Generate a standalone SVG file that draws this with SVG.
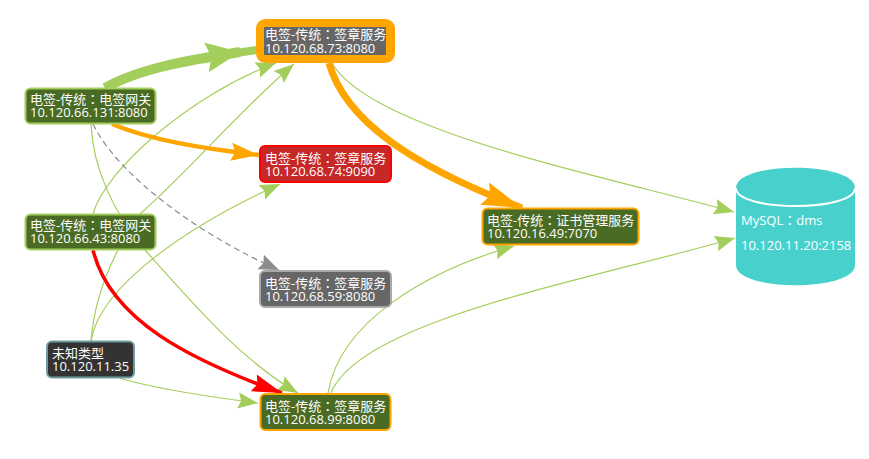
<svg xmlns="http://www.w3.org/2000/svg" width="869" height="459" viewBox="0 0 869 459">
<style>
text{font-family:"Open Sans","Noto Sans CJK TC","Noto Sans",sans-serif;font-size:13px;fill:#fff}
.e{fill:none}
.g{stroke:#a4ce5c;stroke-width:1.2}
.o{stroke:#ffa500}
</style>
<defs>
<marker id="ag" markerUnits="userSpaceOnUse" markerWidth="24" markerHeight="18" refX="20" refY="8" orient="auto" viewBox="0 0 24 16"><path d="M0 0L20 8L0 16L3 8Z" fill="#a4ce5c"/></marker>
<marker id="agb" markerUnits="userSpaceOnUse" markerWidth="40" markerHeight="32" refX="34" refY="15" orient="auto" viewBox="0 0 40 30"><path d="M0 0L34 15L0 30L5 15Z" fill="#a4ce5c"/></marker>
<marker id="ao" markerUnits="userSpaceOnUse" markerWidth="32" markerHeight="20" refX="28" refY="9" orient="auto" viewBox="0 0 32 18"><path d="M0 0L28 9L0 18L4 9Z" fill="#ffa500"/></marker>
<marker id="aob" markerUnits="userSpaceOnUse" markerWidth="44" markerHeight="26" refX="40" refY="12" orient="auto" viewBox="0 0 44 24"><path d="M0 0L40 12L0 24L6 12Z" fill="#ffa500"/></marker>
<marker id="ar" markerUnits="userSpaceOnUse" markerWidth="34" markerHeight="20" refX="30" refY="9" orient="auto" viewBox="0 0 34 18"><path d="M0 0L30 9L0 18L4 9Z" fill="#f00"/></marker>
<marker id="ay" markerUnits="userSpaceOnUse" markerWidth="24" markerHeight="18" refX="20" refY="8" orient="auto" viewBox="0 0 24 16"><path d="M0 0L20 8L0 16L3 8Z" fill="#8c8c8c"/></marker>
</defs>
<g id="connectors">
<path class="e g" d="M91 124C93 170 115 215 145 250C190 300 240 360 298 393" marker-end="url(#ag)"/>
<path class="e g" d="M93 214C105 170 190 95 276 63" marker-end="url(#ag)"/>
<path class="e g" d="M118 250C100 285 93 315 91 341"/>
<path class="e g" d="M118 250C125 235 132 223 140 214C190 170 240 110 294 64" marker-end="url(#ag)"/>
<path class="e g" d="M91 341C100 285 190 225 280 184" marker-end="url(#ag)"/>
<path class="e g" d="M119 378C160 390 210 397 258 403" marker-end="url(#ag)"/>
<path class="e g" d="M328 393C340 320 430 270 514 246" marker-end="url(#ag)"/>
<path class="e g" d="M331 393C360 320 590 280 735 238" marker-end="url(#ag)"/>
<path class="e g" d="M332 63C370 130 600 175 734 212" marker-end="url(#ag)"/>
<path class="e" stroke="#a4ce5c" stroke-width="10" d="M105 88C140 68 190 60 240 52" marker-end="url(#agb)"/>
<path class="e" stroke="#a4ce5c" stroke-width="8" d="M236 53L257 50"/>
<path class="e o" stroke-width="4.500" d="M112 124C150 140 200 148 259 155" marker-end="url(#ao)"/>
<path class="e o" stroke-width="7" d="M329 63C345 120 410 165 522 208" marker-end="url(#aob)"/>
<path class="e" stroke="#f00" stroke-width="3.500" d="M93 250C110 320 190 360 282 393" marker-end="url(#ar)"/>
<path class="e" stroke="#8c8c8c" stroke-width="1.200" stroke-dasharray="6 4" d="M93 124C120 180 210 240 279 270" marker-end="url(#ay)"/>
</g>
<g id="n-gw131"><rect x="25.500" y="88.500" width="130" height="35" rx="5" fill="#4a6b24" stroke="#a4ce5c" stroke-width="2"/><text><tspan x="30" y="104">电签-传统：电签网关</tspan><tspan x="30" y="117">10.120.66.131:8080</tspan></text></g>
<g id="n-gw43"><rect x="25.500" y="214.500" width="130" height="35" rx="5" fill="#4a6b24" stroke="#a4ce5c" stroke-width="2"/><text><tspan x="30" y="230">电签-传统：电签网关</tspan><tspan x="30" y="243">10.120.66.43:8080</tspan></text></g>
<g id="n-unknown"><rect x="47" y="341.500" width="87" height="36" rx="5" fill="#333" stroke="#6f9aa0" stroke-width="2"/><text><tspan x="52" y="358">未知类型</tspan><tspan x="52" y="371">10.120.11.35</tspan></text></g>
<g id="n-sign73"><rect x="258.500" y="21.500" width="134" height="39" rx="7" fill="#ffa500" stroke="#ffa500" stroke-width="5"/><rect x="264" y="27" width="122" height="28" fill="#666"/><text><tspan x="265" y="39">电签-传统：签章服务</tspan><tspan x="265" y="53">10.120.68.73:8080</tspan></text></g>
<g id="n-sign74"><rect x="260" y="146" width="131" height="36" rx="5" fill="#c62828" stroke="#f00" stroke-width="2"/><text><tspan x="265" y="163">电签-传统：签章服务</tspan><tspan x="265" y="176">10.120.68.74:9090</tspan></text></g>
<g id="n-sign59"><rect x="260" y="271" width="131" height="36" rx="5" fill="#666" stroke="#a9a9a9" stroke-width="2"/><text><tspan x="265" y="288">电签-传统：签章服务</tspan><tspan x="265" y="301">10.120.68.59:8080</tspan></text></g>
<g id="n-sign99"><rect x="260.500" y="394" width="130" height="36" rx="5" fill="#4a6b24" stroke="#ffa500" stroke-width="2"/><text><tspan x="265" y="411">电签-传统：签章服务</tspan><tspan x="265" y="424">10.120.68.99:8080</tspan></text></g>
<g id="n-cert"><rect x="482.500" y="208.500" width="156" height="36" rx="5" fill="#4a6b24" stroke="#ffa500" stroke-width="2"/><text><tspan x="487" y="225">电签-传统：证书管理服务</tspan><tspan x="487" y="238">10.120.16.49:7070</tspan></text></g>
<g id="n-mysql"><path d="M736 188C736 161 855 161 855 188V265C855 292 736 292 736 265Z" fill="#48d1cc"/><path d="M736 188C736 212 855 212 855 188" fill="none" stroke="#fff" stroke-width="2"/><text x="741" y="225">MySQL：dms</text><text x="741" y="250">10.120.11.20:2158</text></g>
</svg>
